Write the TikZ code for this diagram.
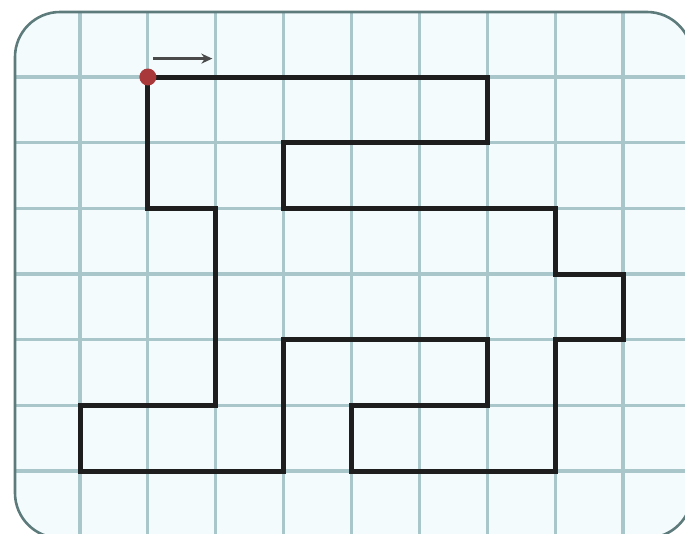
\documentclass[tikz,border=0pt]{standalone}
\usetikzlibrary{arrows.meta}
\definecolor{paper}{HTML}{F3FBFD}
\definecolor{gridc}{HTML}{A9C6CA}
\definecolor{framec}{HTML}{5E7B7C}
\definecolor{pathc}{HTML}{1E1E1E}
\definecolor{dotred}{HTML}{A8383A}
\definecolor{arrowc}{HTML}{4A4A4A}
\tikzset{
  gridline/.style={draw=gridc, line width=3.2pt},
  frameline/.style={draw=framec, line width=2.6pt},
  mazepath/.style={draw=pathc, line width=5pt, line join=miter},
  startdot/.style={circle, fill=dotred, inner sep=0pt, minimum size=17pt},
  dirarrow/.style={draw=arrowc, line width=2.6pt, -{Stealth[length=11pt,width=10pt]}}
}
\begin{document}
\begin{tikzpicture}[x=1pt,y=-1pt]
\useasboundingbox (0,0) rectangle (685,533);
\clip (0,0) rectangle (685,533);
% paper
\path[fill=paper,rounded corners=45pt] (15,12) rectangle (692,538);
\begin{scope}
  \clip[rounded corners=45pt] (15,12) rectangle (692,538);
  \begin{scope}[shift={(80pt,-77pt)}, x=67.875pt, y=-65.67pt]
    \foreach \i in {-1,...,9} \draw[gridline] (\i,-2) -- (\i,8);
    \foreach \j in {-1,...,7} \draw[gridline] (-2,\j) -- (10,\j);
  \end{scope}
\end{scope}
\draw[frameline, rounded corners=45pt] (15,12) rectangle (692,538);
\begin{scope}[shift={(80pt,-77pt)}, x=67.875pt, y=-65.67pt]
  \coordinate (v1) at (1,0);
  \coordinate (v2) at (6,0);
  \coordinate (v3) at (6,1);
  \coordinate (v4) at (3,1);
  \coordinate (v5) at (3,2);
  \coordinate (v6) at (7,2);
  \coordinate (v7) at (7,3);
  \coordinate (v8) at (8,3);
  \coordinate (v9) at (8,4);
  \coordinate (v10) at (7,4);
  \coordinate (v11) at (7,6);
  \coordinate (v12) at (4,6);
  \coordinate (v13) at (4,5);
  \coordinate (v14) at (6,5);
  \coordinate (v15) at (6,4);
  \coordinate (v16) at (3,4);
  \coordinate (v17) at (3,6);
  \coordinate (v18) at (0,6);
  \coordinate (v19) at (0,5);
  \coordinate (v20) at (2,5);
  \coordinate (v21) at (2,2);
  \coordinate (v22) at (1,2);
  \draw[mazepath] (v1) -- (v2) -- (v3) -- (v4) -- (v5) -- (v6) -- (v7) -- (v8)
    -- (v9) -- (v10) -- (v11) -- (v12) -- (v13) -- (v14) -- (v15) -- (v16)
    -- (v17) -- (v18) -- (v19) -- (v20) -- (v21) -- (v22) -- cycle;
  \node[startdot] (start) at (v1) {};
  \coordinate (a1) at (1.08,-0.28);
  \coordinate (a2) at (1.95,-0.28);
  \draw[dirarrow] (a1) -- (a2);
\end{scope}
\end{tikzpicture}
\end{document}
